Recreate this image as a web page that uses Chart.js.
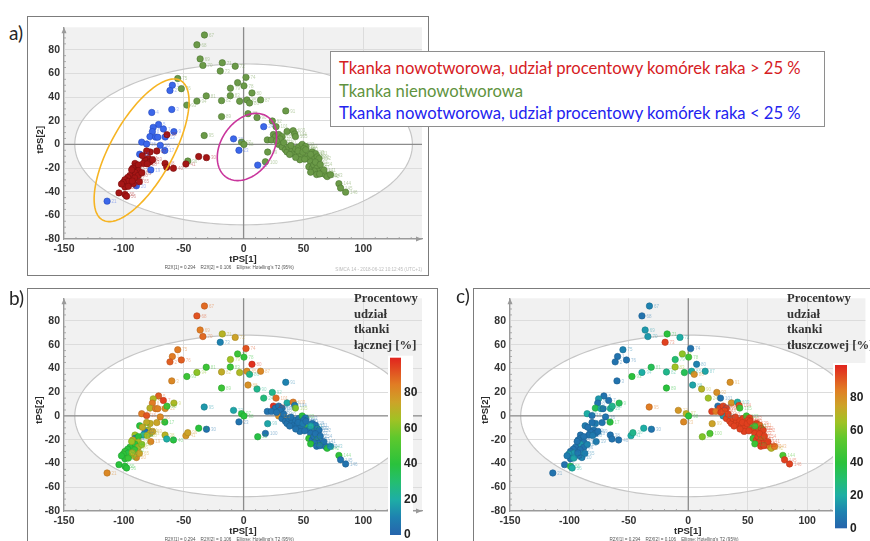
<!DOCTYPE html>
<html>
<head>
<meta charset="utf-8">
<script src="https://cdn.jsdelivr.net/npm/chart.js@4.4.1/dist/chart.umd.min.js"></script>
<style>
  body { margin:0; background:#fff; width:870px; height:541px; overflow:hidden; position:relative; }
  canvas { position:absolute; }
  .box { position:absolute; border:1.5px solid #7c7c7c; box-sizing:border-box; }
  .tag { position:absolute; font-family:Lato, "Open Sans", sans-serif; font-size:19px; color:#262626; line-height:20px; }
  #legend { position:absolute; left:330px; top:51px; width:495px; height:76px; border:1px solid #8e8e8e; background:#fff; box-sizing:border-box; }
  #legend div { position:absolute; left:8px; white-space:nowrap; font-family:Lato, "Open Sans", sans-serif; line-height:20px; height:20px; }
</style>
</head>
<body>
<div class="box" style="left:27px;top:16px;width:402px;height:260px"></div>
<div class="box" style="left:27px;top:288px;width:411px;height:270px"></div>
<div class="box" style="left:473px;top:288px;width:420px;height:270px"></div>

<canvas id="pa" width="401" height="258" style="left:28px;top:17px"></canvas>
<canvas id="pb" width="410" height="253" style="left:28px;top:288px"></canvas>
<canvas id="pc" width="396" height="253" style="left:474px;top:288px"></canvas>

<div class="tag" style="left:9px;top:23px">a)</div>
<div class="tag" style="left:9px;top:288px">b)</div>
<div class="tag" style="left:456px;top:286px">c)</div>

<div id="legend"></div>

<script>
// ---- PLS score values of the samples (tPS[1], tPS[2]) ----
const score1 = [
  // < 25 % cancer cells
  -59.5,-61.5,-60.0,-76.7,-71.0,-75.5,-67.0,-76.2,-58.2,-78.2,-73.4,-71.7,-65.5,-85.1,-81.0,-69.6,-65.8,-86.8,-77.5,-89.5,-114.0,-8.4,-3.9,16.8,11.8,
  // > 25 % cancer cells
  -64.0,-72.5,-78.1,-37.5,-31.0,-79.5,-82.3,-78.1,-83.7,-90.7,-90.7,-87.9,-65.6,-64.2,-58.6,-48.2,-92.6,-87.9,-90.7,-94.9,-87.9,-96.8,-99.1,-96.3,-100.5,-92.1,-99.1,-96.3,-104.1,-99.1,-97.7,-84.5,-80.5,-76.0,-93.5,-85.0,-91.0,-102.0,-93.0,-87.0,-81.0,
  // non-tumour tissue
  -32.7,-39.0,-36.3,-34.0,-17.8,-7.0,-19.5,2.0,-55.0,-52.0,-5.0,0.3,-11.0,7.0,-31.2,-18.4,-11.1,-3.3,2.8,5.0,14.2,3.7,-18.4,11.2,35.2,24.0,-47.4,-39.0,-32.9,-46.6,-1.7,0.3,20.1,18.2,
  27.1,36.3,41.4,42.7,43.3,24.9,26.5,29.3,32.1,30.5,19.8,23.2,29.3,32.1,34.9,36.3,37.7,40.5,41.9,43.3,46.1,48.9,51.7,50.3,44.7,47.5,53.1,54.5,57.3,58.6,60.0,61.5,55.9,54.5,57.3,58.6,61.5,62.8,65.7,68.4,67.0,69.8,72.6,79.6,81.0,85.2,
  38.5,45.5,49.5,52.0,56.0,63.0,60.0,64.0,59.0,56.0,61.0,63.5,39.5,33.5,27.5,47.0,51.0,43.5
];
const score2 = [
  50.0,45.5,29.5,27.0,16.8,14.4,13.0,10.8,10.8,6.6,6.1,6.1,6.2,1.9,0.3,-0.8,-5.2,-8.3,-21.6,-35.0,-48.0,4.7,-5.0,15.0,-17.5,
  8.2,-5.6,-6.4,-10.3,-11.2,-11.9,-13.3,-14.7,-16.1,-16.1,-18.9,-17.4,-16.1,-19.4,-20.2,-16.6,-20.2,-22.2,-23.8,-26.3,-26.3,-28.0,-29.9,-31.3,-32.1,-33.2,-36.0,-35.5,-41.0,-42.4,-43.8,-9.5,-16.5,-13.0,-21.5,-24.0,-28.5,-33.5,-31.0,-31.5,-5.5,
  92.5,84.2,72.3,66.8,69.0,66.1,62.0,56.7,55.7,47.1,52.2,49.5,47.5,43.5,41.0,37.0,41.2,36.5,37.6,35.0,37.6,26.0,23.5,22.7,28.3,19.8,33.2,36.6,7.5,-14.1,1.9,0.0,-6.5,-14.7,
  15.0,11.0,11.6,8.8,6.6,8.3,6.6,8.3,6.6,4.7,3.8,3.8,0.0,-2.2,-4.5,-6.4,-2.2,-5.0,-7.8,-3.6,-2.2,0.0,-1.7,-3.6,-7.8,-10.0,-10.0,-11.9,-6.4,-10.0,-7.8,-10.5,-14.7,-18.9,-20.2,-17.4,-19.4,-23.0,-24.4,-25.7,-21.6,-27.2,-25.7,-33.2,-36.9,-40.4,
  -8.5,-5.5,-6.5,-4.5,-8.5,-12.0,-15.0,-17.0,-22.5,-23.5,-25.5,-25.0,-1.0,1.5,3.0,-13.0,-12.5,-11.0
];
// tissue class: B = tumour (<25 % cancer cells), R = tumour (>25 %), G = non-tumour
const tissueClass = [
  ...'BBBBBBBBBBBBBBBBBBBBBBBBB',
  ...'RRRRRRRRRRRRRRRRRRRRRRRRRRRRRRRRRRRRRRRRR',
  ...'GGGGGGGGGGGGGGGGGGGGGGGGGGGGGGGGGG',
  ...'GGGGGGGGGGGGGGGGGGGGGGGGGGGGGGGGGGGGGGGGGGGGGG',
  ...'GGGGGGGGGGGGGGGGGG'
];
// connective tissue share [%]
const connectivePct = [
  85,90,82,null,90,68,95,85,68,70,85,85,80,85,92,82,40,40,82,82,82,18,5,28,38,
  45,75,72,40,5,70,5,70,20,65,5,40,70,20,40,78,72,65,40,40,70,40,42,38,42,72,40,45,40,40,40,72,68,75,65,62,45,40,70,75,72,
  88,92,85,88,70,75,10,92,85,90,45,42,65,98,45,72,45,68,82,25,82,80,45,25,10,25,45,62,15,75,40,40,18,5,
  88,20,85,5,60,98,5,5,5,5,5,5,80,5,5,5,5,5,5,5,5,40,5,5,5,5,45,5,5,5,5,5,5,42,5,5,5,5,5,5,5,40,15,42,5,5,
  5,5,8,5,20,5,5,5,5,40,5,5,5,5,5,5,5,5
];
// adipose tissue share [%]
const fatPct = [
  5,5,5,null,5,15,5,5,35,35,20,5,25,20,5,5,40,8,8,8,5,78,82,65,60,
  25,5,8,20,5,5,5,5,5,5,5,5,5,5,5,20,5,5,15,5,5,5,5,15,15,5,5,18,5,35,20,5,8,5,5,10,5,8,5,10,5,
  10,5,15,15,40,20,95,5,10,5,62,45,30,10,35,25,65,35,20,80,18,18,40,70,80,80,40,20,85,25,70,40,75,50,
  5,78,20,95,45,5,95,95,95,95,95,85,15,95,95,95,95,95,95,95,95,45,95,95,95,95,45,95,95,95,88,95,95,45,95,95,95,95,95,85,95,70,85,50,95,95,
  95,95,95,95,45,95,95,95,95,45,95,95,95,95,95,95,95,95
];
// axis tick values
const xTicks = [-150, -100, -50, 0, 50, 100];
const yTicks = [-80, -60, -40, -20, 0, 20, 40, 60, 80];
const barTicks = [0, 20, 40, 60, 80];

const classStyle = {
  R: { fill:'#a51616', edge:'#780d0d' },
  G: { fill:'#6b9a48', edge:'#4b7630' },
  B: { fill:'#3b67ea', edge:'#2447bb' }
};

// colour scale used for the percentage maps
const cmapStops = [
  [0,[38,100,172]],[10,[30,130,176]],[20,[30,174,165]],[30,[36,190,112]],[40,[42,194,60]],
  [55,[95,200,45]],[65,[160,194,36]],[75,[205,163,40]],[85,[225,124,36]],[100,[225,36,30]]
];
function cmap(v) {
  for (let i = 1; i < cmapStops.length; i++) {
    const [v1, c1] = cmapStops[i], [v0, c0] = cmapStops[i-1];
    if (v <= v1) {
      const t = (v - v0) / (v1 - v0);
      const c = c0.map((k, j) => Math.round(k + (c1[j] - k) * t));
      return 'rgb(' + c.join(',') + ')';
    }
  }
  return 'rgb(225,36,30)';
}
function darker(rgb, f) {
  const m = rgb.match(/\d+/g).map(Number);
  return 'rgb(' + m.map(k => Math.round(k * f)).join(',') + ')';
}

// ellipses in score units: centre + two semi-axis vectors
const t2Ellipse = { cx:0, cy:0, ux:141, uy:0, vx:0, vy:68 };
const groupEllipses = [
  { cx:-85.2, cy:-5.0, ux:32.5, uy:59.0, vx:22.7, vy:-12.5, color:'#f6b423' },
  { cx:2.8, cy:-2.2, ux:16.6, uy:26.0, vx:18.4, vy:-11.5, color:'#c9359c' }
];

function traceEllipse(ctx, xs, ys, e) {
  ctx.beginPath();
  for (let i = 0; i <= 160; i++) {
    const t = i / 160 * 2 * Math.PI;
    const px = xs.getPixelForValue(e.cx + e.ux * Math.cos(t) + e.vx * Math.sin(t));
    const py = ys.getPixelForValue(e.cy + e.uy * Math.cos(t) + e.vy * Math.sin(t));
    if (i) ctx.lineTo(px, py); else ctx.moveTo(px, py);
  }
  ctx.closePath();
}

const decor = {
  id: 'decor',
  beforeDraw(chart) {
    const { ctx, chartArea: a, scales: { x, y } } = chart;
    ctx.save();
    ctx.fillStyle = '#f1f1f1';
    ctx.fillRect(a.left, a.top, a.right - a.left, a.bottom - a.top);
    traceEllipse(ctx, x, y, t2Ellipse);
    ctx.fillStyle = '#ffffff';
    ctx.fill();
    ctx.restore();
  },
  beforeDatasetsDraw(chart, args, o) {
    const { ctx, chartArea: a, scales: { x, y } } = chart;
    ctx.save();
    // Hotelling T2 ellipse
    traceEllipse(ctx, x, y, t2Ellipse);
    ctx.strokeStyle = '#c6c6c6'; ctx.lineWidth = 1.2; ctx.stroke();
    // zero lines
    ctx.strokeStyle = '#8c8c8c'; ctx.lineWidth = 1.3;
    const x0 = x.getPixelForValue(0), y0 = y.getPixelForValue(0);
    ctx.beginPath();
    ctx.moveTo(x0, a.top); ctx.lineTo(x0, a.bottom);
    ctx.moveTo(a.left, y0); ctx.lineTo(a.right, y0);
    ctx.stroke();
    // minor ticks along the axes
    ctx.strokeStyle = '#9a9a9a'; ctx.lineWidth = 0.8;
    ctx.beginPath();
    for (let v = -80; v <= 96; v += 5) {
      const py = y.getPixelForValue(v);
      ctx.moveTo(a.left, py); ctx.lineTo(a.left + (v % 20 === 0 ? 0 : 2), py);
    }
    for (let v = -150; v <= 145; v += 10) {
      const px = x.getPixelForValue(v);
      ctx.moveTo(px, a.bottom); ctx.lineTo(px, a.bottom - (v % 50 === 0 ? 0 : 2));
    }
    ctx.stroke();
    // axis arrowheads
    ctx.fillStyle = '#9a9a9a';
    ctx.beginPath();
    ctx.moveTo(a.left, a.top); ctx.lineTo(a.left - 2.5, a.top + 6); ctx.lineTo(a.left + 2.5, a.top + 6);
    ctx.closePath(); ctx.fill();
    ctx.beginPath();
    ctx.moveTo(a.right, a.bottom); ctx.lineTo(a.right - 6, a.bottom - 2.5); ctx.lineTo(a.right - 6, a.bottom + 2.5);
    ctx.closePath(); ctx.fill();
    ctx.restore();
  },
  afterDatasetsDraw(chart, args, o) {
    const { ctx, chartArea: a, scales: { x, y } } = chart;
    ctx.save();
    // sample IDs beside each point
    ctx.font = '4.5px "Liberation Sans"';
    ctx.textBaseline = 'middle';
    chart.data.datasets.forEach((ds, di) => {
      const meta = chart.getDatasetMeta(di);
      meta.data.forEach((el, i) => {
        const col = Array.isArray(ds.backgroundColor) ? ds.backgroundColor[i] : ds.backgroundColor;
        ctx.globalAlpha = 0.45;
        ctx.fillStyle = col;
        ctx.fillText(String(ds.ids[i]), el.x + 4.5, el.y + 0.5);
      });
    });
    ctx.globalAlpha = 1;
    // class ellipses
    (o.ellipses || []).forEach(e => {
      traceEllipse(ctx, x, y, e);
      ctx.strokeStyle = e.color; ctx.lineWidth = 1.6; ctx.stroke();
    });
    // axis titles and footnote
    ctx.fillStyle = '#2a2a2a';
    ctx.font = 'bold 9.5px "Liberation Sans"';
    ctx.textAlign = 'center';
    ctx.textBaseline = 'middle';
    ctx.fillText('tPS[1]', (a.left + a.right) / 2, a.bottom + o.xTitleDy);
    ctx.save();
    ctx.translate(o.yTitleX, y.getPixelForValue(o.yTitleAt));
    ctx.rotate(-Math.PI / 2);
    ctx.fillText('tPS[2]', 0, 0);
    ctx.restore();
    ctx.font = '4.6px "Liberation Sans"';
    ctx.fillStyle = '#555';
    ctx.fillText("R2X[1] = 0.294    R2X[2] = 0.106    Ellipse: Hotelling's T2 (95%)", x.getPixelForValue(-12), a.bottom + o.noteDy);
    if (o.stamp) {
      ctx.fillStyle = '#bbb';
      ctx.textAlign = 'right';
      ctx.fillText('SIMCA 14 - 2018-06-12 10:12:45 (UTC+1)', a.right, a.bottom + o.noteDy + 2);
    }
    // colour bar with its title
    const cb = o.colorbar;
    if (cb) {
      ctx.fillStyle = '#fff';
      ctx.fillRect(cb.wx0, cb.top - 2, cb.wx1 - cb.wx0, chart.height - cb.top + 2);
      const g = ctx.createLinearGradient(0, cb.bottom, 0, cb.top);
      for (let v = 0; v <= 100; v += 5) g.addColorStop(v / 100, cmap(v));
      ctx.fillStyle = g;
      ctx.fillRect(cb.x0, cb.top, cb.x1 - cb.x0, cb.bottom - cb.top);
      ctx.fillStyle = '#222';
      ctx.font = 'bold 12px "Liberation Sans"';
      ctx.textAlign = 'left';
      barTicks.forEach(v => {
        const py = cb.bottom - (cb.bottom - cb.top) * v / 100;
        ctx.fillText(String(v), cb.labelX, py);
      });
      ctx.fillStyle = '#333';
      ctx.font = 'bold 12.7px "Liberation Serif"';
      cb.title.forEach((s, i) => ctx.fillText(s, cb.titleX, cb.titleY + i * cb.titleStep));
    }
    ctx.restore();
  }
};

function axisOptions(xAxisH) {
  const tickFont = { family:'Liberation Sans', weight:'bold', size:10.5 };
  return {
    x: {
      type:'linear', min:-150, max:149,
      afterFit(s) { s.height = xAxisH; },
      afterBuildTicks(s) { s.ticks = xTicks.map(v => ({ value:v })); },
      ticks:{ padding:4, color:'#333', font:tickFont, maxRotation:0 },
      grid:{ color:'#dcdcdc', drawTicks:false, lineWidth:1 },
      border:{ color:'#9a9a9a', width:1.2 }
    },
    y: {
      type:'linear', min:-80, max:99,
      afterFit(s) { s.width = 36; },
      afterBuildTicks(s) { s.ticks = yTicks.map(v => ({ value:v })); },
      ticks:{ padding:4, color:'#333', font:tickFont },
      grid:{ color:'#dcdcdc', drawTicks:false, lineWidth:1 },
      border:{ color:'#9a9a9a', width:1.2 }
    }
  };
}

function pointsWhere(test) {
  const idx = [];
  score1.forEach((_, i) => { if (test(i)) idx.push(i); });
  return idx;
}

function makeChart(id, datasets, padRight, xAxisH, decorOpts) {
  return new Chart(document.getElementById(id), {
    type:'scatter',
    data:{ datasets },
    options:{
      responsive:false, animation:false, devicePixelRatio:1,
      layout:{ padding:{ top:5, right:padRight, left:0, bottom:0 } },
      plugins:{ legend:{ display:false }, tooltip:{ enabled:false }, decor:decorOpts },
      scales: axisOptions(xAxisH)
    },
    plugins:[decor]
  });
}

// panel a: samples by class
const classDatasets = ['R','G','B'].map(cls => {
  const idx = pointsWhere(i => tissueClass[i] === cls);
  return {
    data: idx.map(i => ({ x:score1[i], y:score2[i] })),
    ids: idx.map(i => i + 1),
    backgroundColor: classStyle[cls].fill,
    borderColor: classStyle[cls].edge,
    borderWidth: 0.6, pointRadius: 3.2
  };
});
makeChart('pa', classDatasets, 7, 36, {
  ellipses: groupEllipses, xTitleDy:20, yTitleX:12, yTitleAt:4, noteDy:29, stamp:true
});

// panels b and c: samples coloured by tissue share
function shareDataset(values) {
  const idx = pointsWhere(i => values[i] !== null);
  const cols = idx.map(i => cmap(values[i]));
  return [{
    data: idx.map(i => ({ x:score1[i], y:score2[i] })),
    ids: idx.map(i => i + 1),
    backgroundColor: cols,
    borderColor: cols.map(c => darker(c, 0.82)),
    borderWidth: 0.6, pointRadius: 3.2
  }];
}
makeChart('pb', shareDataset(connectivePct), 16, 30, {
  xTitleDy:20, yTitleX:11, yTitleAt:5, noteDy:29,
  colorbar:{ x0:362, x1:373, top:69.7, bottom:247, wx0:360, wx1:385, labelX:376,
             title:['Procentowy','udział','tkanki','łącznej [%]'], titleX:326, titleY:11, titleStep:15.6 }
});
makeChart('pc', shareDataset(fatPct), 3, 30, {
  xTitleDy:20, yTitleX:11, yTitleAt:5, noteDy:29,
  colorbar:{ x0:361, x1:373, top:77, bottom:240.3, wx0:359, wx1:392, labelX:376,
             title:['Procentowy','udział','tkanki','tłuszczowej [%]'], titleX:313, titleY:11, titleStep:15.6 }
});

// class legend of panel a
const legendLines = [
  ['Tkanka nowotworowa, udział procentowy komórek raka > 25 %', '#d6201f', 68.3],
  ['Tkanka nienowotworowa', '#5f9340', 91],
  ['Tkanka nowotworowa, udział procentowy komórek raka < 25 %', '#2323ef', 113.3]
];
const mctx = document.createElement('canvas').getContext('2d');
mctx.font = '100px Lato';
const legendSize = 463 * 100 / mctx.measureText(legendLines[0][0]).width;
const legend = document.getElementById('legend');
legendLines.forEach(([text, color, cy]) => {
  const d = document.createElement('div');
  d.textContent = text;
  d.style.color = color;
  d.style.fontSize = legendSize.toFixed(2) + 'px';
  d.style.top = (cy - 52 - 10) + 'px';
  legend.appendChild(d);
});
</script>
</body>
</html>
